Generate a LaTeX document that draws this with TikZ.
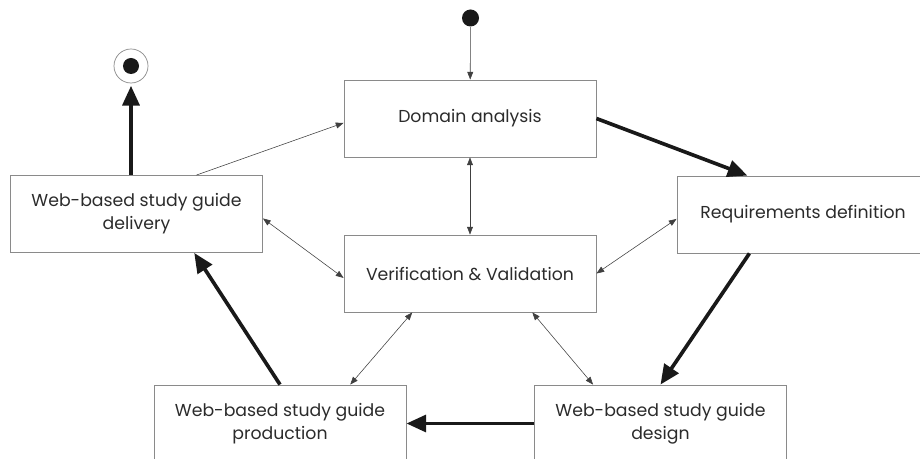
\documentclass[tikz,border=0pt]{standalone}
\usepackage{fontspec}
\setmainfont{Poppins}
\usepackage{tikz}
\usetikzlibrary{arrows.meta,positioning,calc}
\definecolor{ink}{HTML}{2B2B2B}
\definecolor{rim}{HTML}{8A8A8A}

\begin{document}
\begin{tikzpicture}[
  x=0.025cm, y=-0.025cm,
  font=\fontsize{12.3}{16.3}\selectfont,
  box/.style={draw=rim, line width=0.6pt, minimum width=6.3cm, minimum height=1.925cm, align=center, text=ink, inner sep=0pt},
  thin/.style={{Triangle[length=5.5pt,width=4.2pt]}-{Triangle[length=5.5pt,width=4.2pt]}, line width=0.4pt, draw=black!75},
  flow/.style={-{Triangle[length=14pt,width=12pt]}, line width=2.6pt, draw=black!90},
  entry/.style={-{Triangle[length=5.5pt,width=4.2pt]}, line width=0.4pt, draw=black!75}
]
\useasboundingbox (0,0) rectangle (920,459);
\clip (0,0) rectangle (920,459);
% states
\node[box] (dom) at (470,118.5) {Domain analysis};
\node[box] (req) at (803,214.5) {Requirements definition};
\node[box] (vv)  at (470,273.5) {Verification \& Validation};
\node[box] (del) at (136.5,214) {Web-based study guide\\delivery};
\node[box] (prod) at (280,423.5) {Web-based study guide\\production};
\node[box] (des) at (660.5,423.5) {Web-based study guide\\design};
% start and end
\node[circle, fill=black!90, minimum size=0.425cm, inner sep=0pt] (start) at (470.5,18) {};
\node[circle, draw=rim, line width=0.5pt, minimum size=0.85cm, inner sep=0pt, outer sep=2pt] (stop) at (131,66) {};
\node[circle, fill=black!90, minimum size=0.4cm, inner sep=0pt] (stopdot) at (stop) {};
% main cycle
\draw[entry] (start) -- (dom);
\draw[flow] (dom.east) -- (req.145.5);
\draw[flow] (req.216) -- (des.north);
\draw[flow] (des.west) -- (prod.east);
\draw[flow] (prod.north) -- (del.326);
\draw[flow] (del.north -| stop) -- (stop);
\draw[entry] (del.33) -- (dom.182);
% checks
\draw[thin] (dom.south) -- (vv.north);
\draw[thin] (del.358) -- (vv.182);
\draw[thin] (req.182) -- (vv.east);
\draw[thin] (vv.214) -- (prod.29);
\draw[thin] (vv.328) -- (des.150);
\end{tikzpicture}
\end{document}
